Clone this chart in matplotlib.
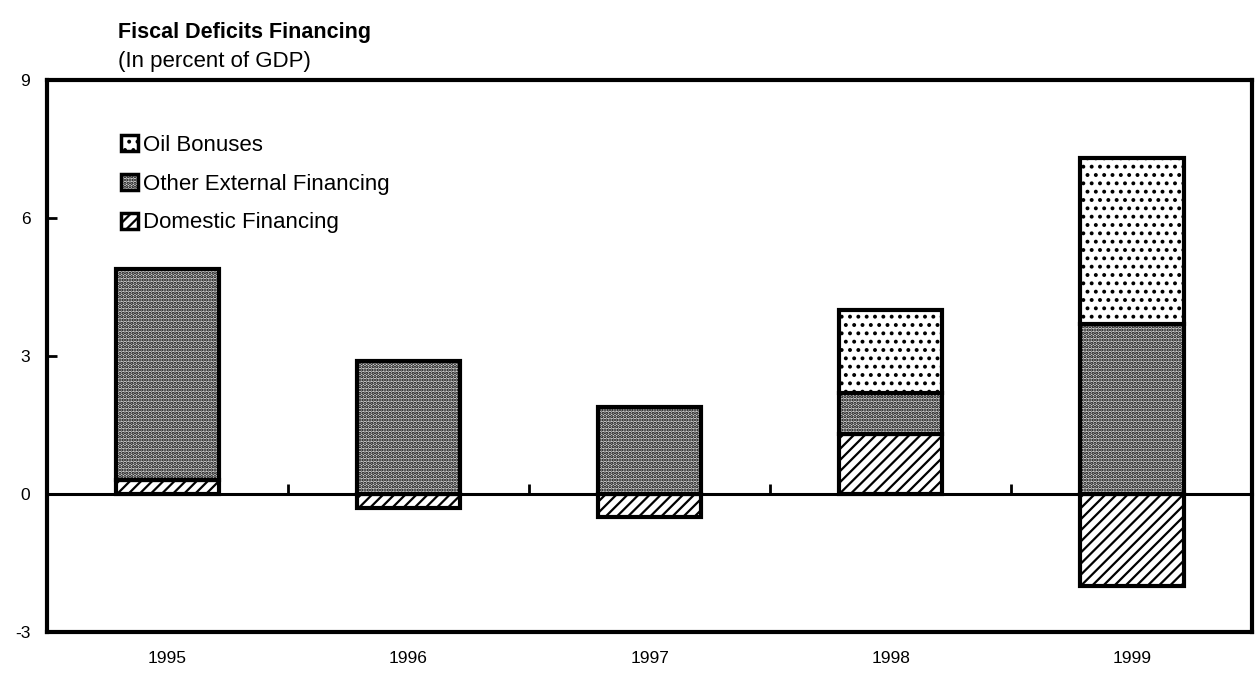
import numpy as np
import matplotlib
matplotlib.use("Agg")
import matplotlib.pyplot as plt
from matplotlib.patches import Patch

years = ["1995", "1996", "1997", "1998", "1999"]
domestic = [0.3, -0.3, -0.5, 1.3, -2.0]
other_external = [4.6, 2.9, 1.9, 0.9, 3.7]
oil_bonuses = [0.0, 0.0, 0.0, 1.8, 3.6]

plt.rcParams['font.family'] = ['Liberation Sans', 'DejaVu Sans']
plt.rcParams['hatch.linewidth'] = 1.6

fig = plt.figure(figsize=(12.56, 6.86), dpi=100)
ax = fig.add_axes([0.0374, 0.079, 0.9596, 0.804])

x = np.arange(len(years))
w = 0.43
dom = np.array(domestic)
oth = np.array(other_external)
oil = np.array(oil_bonuses)
base = np.clip(dom, 0, None)

# domestic financing (diagonal hatch)
ax.bar(x, dom, w, color='white', edgecolor='black', hatch='///', linewidth=3, zorder=3)
# other external financing (gray stipple)
ax.bar(x, oth, w, bottom=base, color='#d6d6d6', edgecolor='black', hatch='.....',
       linewidth=3, zorder=3)
# oil bonuses (sparse dots)
has_oil = oil > 0
ax.bar(x[has_oil], oil[has_oil], w, bottom=(base + oth)[has_oil], color='white',
       edgecolor='black', hatch='..', linewidth=3, zorder=3)

ax.set_xlim(-0.5, len(years) - 0.5)
ax.set_ylim(-3, 9)
ax.set_yticks([-3, 0, 3, 6, 9])
ax.set_yticklabels(['-3', '0', '3', '6', '9'])
ax.tick_params(axis='y', direction='in', length=7, width=2, labelsize=12.5, pad=12)
ax.set_xticks(x)
ax.set_xticklabels(years)
ax.tick_params(axis='x', length=0, labelsize=12.5, pad=14)
for s in ax.spines.values():
    s.set_linewidth(3)

# zero line with small tick marks between categories
zero = ax.secondary_xaxis(3 / 12)
zero.spines['bottom'].set_linewidth(2.2)
zero.set_xticks(x[:-1] + 0.5)
zero.tick_params(direction='in', length=7, width=2, labelbottom=False)

handles = [
    Patch(facecolor='white', edgecolor='black', hatch='..', linewidth=2.5),
    Patch(facecolor='#d6d6d6', edgecolor='black', hatch='.....', linewidth=2.5),
    Patch(facecolor='white', edgecolor='black', hatch='///', linewidth=2.5),
]
ax.legend(handles, ['Oil Bonuses', 'Other External Financing', 'Domestic Financing'],
          loc='upper left', bbox_to_anchor=(0.054, 0.917), frameon=False,
          fontsize=16, handlelength=0.75, handleheight=0.75, handletextpad=0.25,
          labelspacing=0.8, borderaxespad=0)

fig.text(0.094, 0.952, 'Fiscal Deficits Financing', fontsize=15.5, fontweight='bold',
         ha='left', va='center')
fig.text(0.094, 0.91, '(In percent of GDP)', fontsize=16, ha='left', va='center')

fig.savefig('out.png', dpi=100)
